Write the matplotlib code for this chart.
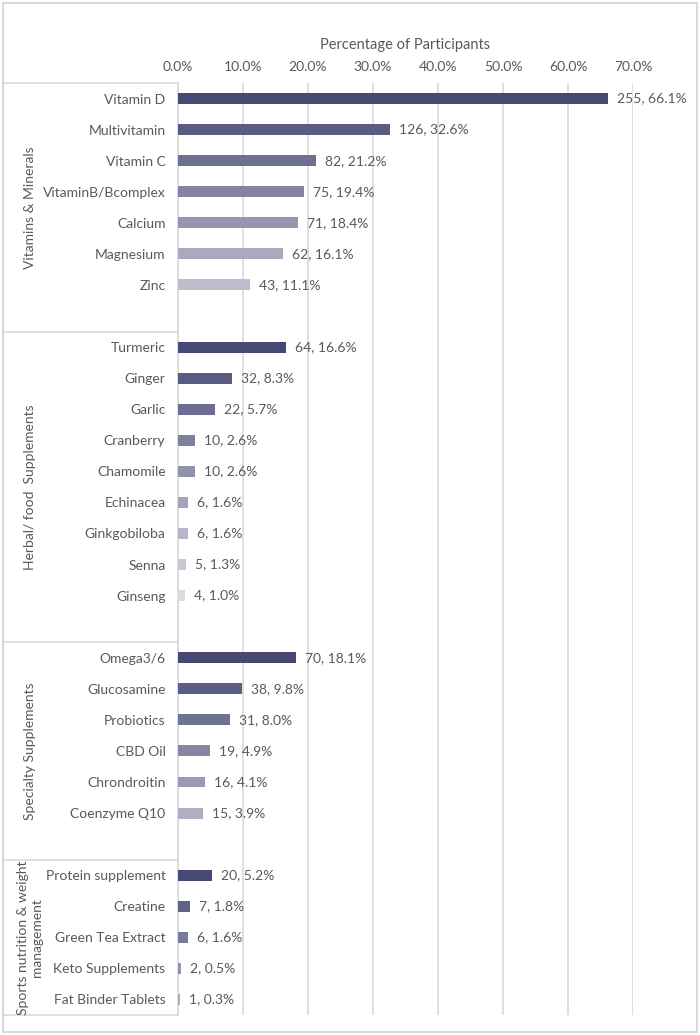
import matplotlib
matplotlib.use('Agg')
import matplotlib.pyplot as plt
import matplotlib.transforms as mtransforms
from matplotlib.patches import Rectangle

'Data read from the chart'
group_names = ['Vitamins & Minerals', 'Herbal/ food  Supplements',
               'Specialty Supplements', 'Sports nutrition & weight\nmanagement']

vit_names = ['Vitamin D', 'Multivitamin', 'Vitamin C', 'VitaminB/Bcomplex',
             'Calcium', 'Magnesium', 'Zinc']
vit_counts = [255, 126, 82, 75, 71, 62, 43]
vit_pct = [66.1, 32.6, 21.2, 19.4, 18.4, 16.1, 11.1]

herb_names = ['Turmeric', 'Ginger', 'Garlic', 'Cranberry', 'Chamomile',
              'Echinacea', 'Ginkgobiloba', 'Senna', 'Ginseng']
herb_counts = [64, 32, 22, 10, 10, 6, 6, 5, 4]
herb_pct = [16.6, 8.3, 5.7, 2.6, 2.6, 1.6, 1.6, 1.3, 1.0]

spec_names = ['Omega3/6', 'Glucosamine', 'Probiotics', 'CBD Oil',
              'Chrondroitin', 'Coenzyme Q10']
spec_counts = [70, 38, 31, 19, 16, 15]
spec_pct = [18.1, 9.8, 8.0, 4.9, 4.1, 3.9]

sport_names = ['Protein supplement', 'Creatine', 'Green Tea Extract',
               'Keto Supplements', 'Fat Binder Tablets']
sport_counts = [20, 7, 6, 2, 1]
sport_pct = [5.2, 1.8, 1.6, 0.5, 0.3]

x_ticks = [0, 10, 20, 30, 40, 50, 60, 70]

groups = [(vit_names, vit_counts, vit_pct, 0.64),
          (herb_names, herb_counts, herb_pct, 0.80),
          (spec_names, spec_counts, spec_pct, 0.56),
          (sport_names, sport_counts, sport_pct, 0.55)]

base = (0x47, 0x49, 0x74)
text_col = '#595959'
line_col = '#D9D9D9'
plt.rcParams['font.family'] = ['Lato', 'DejaVu Sans']

def tint(t):
    'mix the base colour with white'
    return tuple((c + (255 - c) * t) / 255 for c in base)

W, H = 700, 1035
fig = plt.figure(figsize=(W / 100, H / 100), dpi=100)
left, right, top, bottom = 178, 633, 83, 1015
ax = fig.add_axes([left / W, 1 - bottom / H, (right - left) / W, (bottom - top) / H])

'Lay the groups out on one category axis with a blank slot between them'
total = sum(len(g[0]) for g in groups) + len(groups) - 1
ticks, names, bands = [], [], []
pos = 0
for names_g, counts_g, pct_g, tmax in groups:
    n = len(names_g)
    ys = list(range(pos, pos + n))
    cols = [tint(tmax * i / (n - 1)) for i in range(n)]
    ax.barh(ys, pct_g, height=0.35, color=cols, zorder=3)
    for y, c, p in zip(ys, counts_g, pct_g):
        ax.annotate(f'{c}, {p:.1f}%', (p, y), xytext=(6.5, 0),
                    textcoords='offset points', va='center', ha='left',
                    fontsize=10, color=text_col, annotation_clip=False)
    ticks += ys
    names += names_g
    bands.append((pos - 0.5, min(pos + n + 0.5, total - 0.5)))
    pos += n + 1

ax.set_ylim(total - 0.5, -0.5)
ax.set_xlim(0, 70)
ax.set_yticks(ticks, names)
ax.set_xticks(x_ticks, [f'{v:.1f}%' for v in x_ticks])
ax.xaxis.tick_top()
ax.tick_params(axis='both', length=0, labelsize=10, labelcolor=text_col)
ax.tick_params(axis='y', pad=9)
ax.tick_params(axis='x', pad=7)
ax.grid(axis='x', color=line_col, lw=1.2, zorder=0)
for s in ['top', 'right', 'bottom']:
    ax.spines[s].set_visible(False)
ax.spines['left'].set_color(line_col)
ax.spines['left'].set_linewidth(1.2)

fig.text((left + right) / 2 / W, 1 - 45 / H, 'Percentage of Participants',
         ha='center', va='center', fontsize=10.5, color=text_col)

'Boxes round the group labels'
trans = mtransforms.blended_transform_factory(fig.transFigure, ax.transData)
edges = sorted(set([b[0] for b in bands] + [b[1] for b in bands]))
for e in edges:
    ax.plot([3 / W, left / W], [e, e], color=line_col, lw=1.2,
            transform=trans, clip_on=False)
for (b0, b1), g in zip(bands, group_names):
    ax.text(30 / W, (b0 + b1) / 2, g, transform=trans, rotation=90,
            ha='center', va='center', multialignment='center',
            fontsize=10, color=text_col)

fig.patches.append(Rectangle((3 / W, 1 - 1032 / H), 694 / W, 1029 / H,
                             transform=fig.transFigure, fill=False,
                             edgecolor=line_col, lw=1.5))

fig.savefig('out.png', dpi=100, facecolor='white')
